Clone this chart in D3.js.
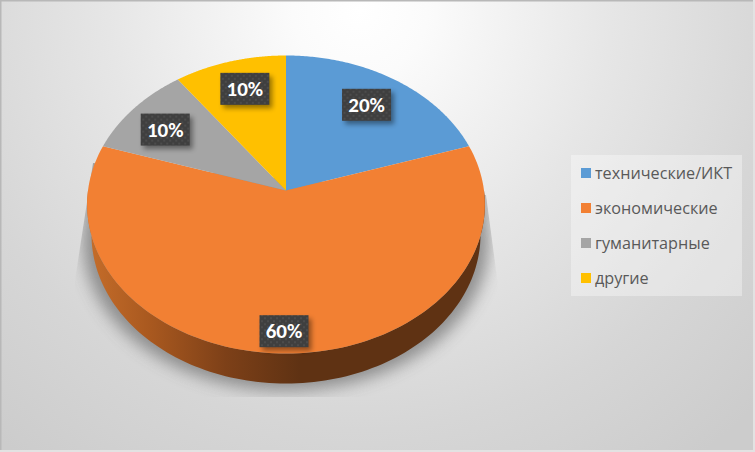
<!DOCTYPE html>
<html><head><meta charset="utf-8">
<script src="https://cdn.jsdelivr.net/npm/d3@7/dist/d3.min.js"></script>
<style>html,body{margin:0;padding:0;background:#fff;overflow:hidden}svg{display:block}</style>
</head><body><svg id="c" width="755" height="452"></svg>
<script>
const categories = ["технические/ИКТ","экономические","гуманитарные","другие"];
const values = [20,60,10,10];
const labels = ["20%","60%","10%","10%"];
const colors = ["#5B9BD5","#F28033","#A5A5A5","#FFC000"];
const labelR = [0.74,0.88,0.78,0.79];
const labelDx = [-1,-2,-1,4];
const labelDy = [-2,-1,4,2];

const W=755,H=452;
const svg=d3.select("#c");
const defs=svg.append("defs");

const bg=defs.append("radialGradient").attr("id","bg").attr("gradientUnits","userSpaceOnUse")
  .attr("cx",360).attr("cy",10).attr("r",560);
[[0,"#ffffff"],[0.12,"#fbfbfb"],[0.45,"#e6e6e6"],[0.75,"#d6d6d6"],[1,"#cccccc"]].forEach(s=>bg.append("stop").attr("offset",s[0]).attr("stop-color",s[1]));
svg.append("rect").attr("width",W).attr("height",H).attr("fill","url(#bg)");
svg.append("rect").attr("width",W).attr("height",1.5).attr("fill","#b8b8b8");
svg.append("rect").attr("width",1.5).attr("height",H).attr("fill","#b8b8b8");
svg.append("rect").attr("y",450).attr("width",W).attr("height",2).attr("fill","#e2e2e2");
svg.append("rect").attr("x",753).attr("width",2).attr("height",H).attr("fill","#e2e2e2");

// perspective projection of the pie disc
const cx=286,cy=190.5,a=198,b=147.7,p=0.094;
const proj=(ang,r,da=a,db=b,dy=0)=>{const u=Math.sin(ang)*r,v=Math.cos(ang)*r,w=1+p*v;return [cx+da*u/w,cy+dy-db*v/w];};
const pie=d3.pie().sort(null).value(d=>d)(values);
const line=d3.line();
const samples=(s,e,fn)=>d3.range(0,121).map(i=>fn(s+(e-s)*i/120));

// shadow: blurred lower half of the disc plus a body reaching up the sides, cut by a wedge
defs.append("filter").attr("id","blur").attr("x","-20%").attr("y","-20%").attr("width","140%").attr("height","140%")
  .append("feGaussianBlur").attr("stdDeviation",8);
defs.append("clipPath").attr("id","shClip").append("path").attr("d",d3.line()([[93,163],[75,280],[75,397],[498,397],[498,285],[486,195]])+"Z");
const shLow=samples(Math.PI/2,3*Math.PI/2,t=>proj(t,1,a*1.02,b*1.0,37));
svg.append("g").attr("clip-path","url(#shClip)").append("path")
  .attr("d",line([[cx+a*0.98,110],...shLow,[cx-a*0.98,110]])+"Z")
  .attr("fill","#808080").attr("opacity",0.85).attr("filter","url(#blur)");

// wall
const wg=defs.append("linearGradient").attr("id","wall").attr("gradientUnits","userSpaceOnUse").attr("x1",88).attr("x2",300).attr("y1",0).attr("y2",0);
[[0,"#c56d2a"],[0.3,"#a8581f"],[0.65,"#7d4018"],[1,"#5f3213"]].forEach(s=>wg.append("stop").attr("offset",s[0]).attr("stop-color",s[1]));
const bot=t=>proj(t,1,a*0.978,b*1.0,30);
svg.append("path")
  .attr("d",line([...samples(Math.PI/2,3*Math.PI/2,t=>proj(t,1)),...samples(3*Math.PI/2,Math.PI/2,bot)])+"Z")
  .attr("fill","url(#wall)");

// top face
pie.forEach((d,i)=>{
  svg.append("path")
   .attr("d",line([[cx,cy],...samples(d.startAngle,d.endAngle,t=>proj(t,1))])+"Z")
   .attr("fill",colors[i]);
});

// labels
const pat=defs.append("pattern").attr("id","dots").attr("patternUnits","userSpaceOnUse").attr("width",6).attr("height",6);
pat.append("rect").attr("width",6).attr("height",6).attr("fill","#3f3f3f");
pat.append("rect").attr("x",1).attr("y",1).attr("width",2).attr("height",2).attr("fill","#4c4c4c");
pat.append("rect").attr("x",4).attr("y",4).attr("width",2).attr("height",2).attr("fill","#4c4c4c");
const sf=defs.append("filter").attr("id","ls").attr("x","-30%").attr("y","-30%").attr("width","170%").attr("height","170%");
sf.append("feGaussianBlur").attr("stdDeviation",2.5);
pie.forEach((d,i)=>{
  const m=(d.startAngle+d.endAngle)/2;
  const [x,y]=proj(m,labelR[i]);
  const g=svg.append("g").attr("transform",`translate(${x+labelDx[i]},${y+labelDy[i]})`);
  g.append("rect").attr("x",-21.5).attr("y",-12.5).attr("width",49).attr("height",32).attr("fill","#000").attr("opacity",0.4).attr("filter","url(#ls)");
  g.append("rect").attr("x",-24.5).attr("y",-16).attr("width",49).attr("height",32).attr("fill","url(#dots)");
  g.append("text").attr("y",7).attr("text-anchor","middle").attr("fill","#fff").attr("font-family","Carlito,Lato,'Open Sans',sans-serif").attr("font-weight",700).attr("font-size",21).text(labels[i]);
});

// legend
svg.append("rect").attr("x",571).attr("y",155).attr("width",171).attr("height",141).attr("fill","#fff").attr("opacity",0.35);
const ly=d3.scalePoint().domain(categories).range([173,278]);
categories.forEach((c,i)=>{
  svg.append("rect").attr("x",581).attr("y",ly(c)-5).attr("width",10).attr("height",10).attr("fill",colors[i]);
  svg.append("text").attr("x",595).attr("y",ly(c)+5.5).attr("fill","#595959").attr("font-family","'Open Sans','Noto Sans',sans-serif").attr("font-size",16.2).text(c);
});
</script></body></html>
